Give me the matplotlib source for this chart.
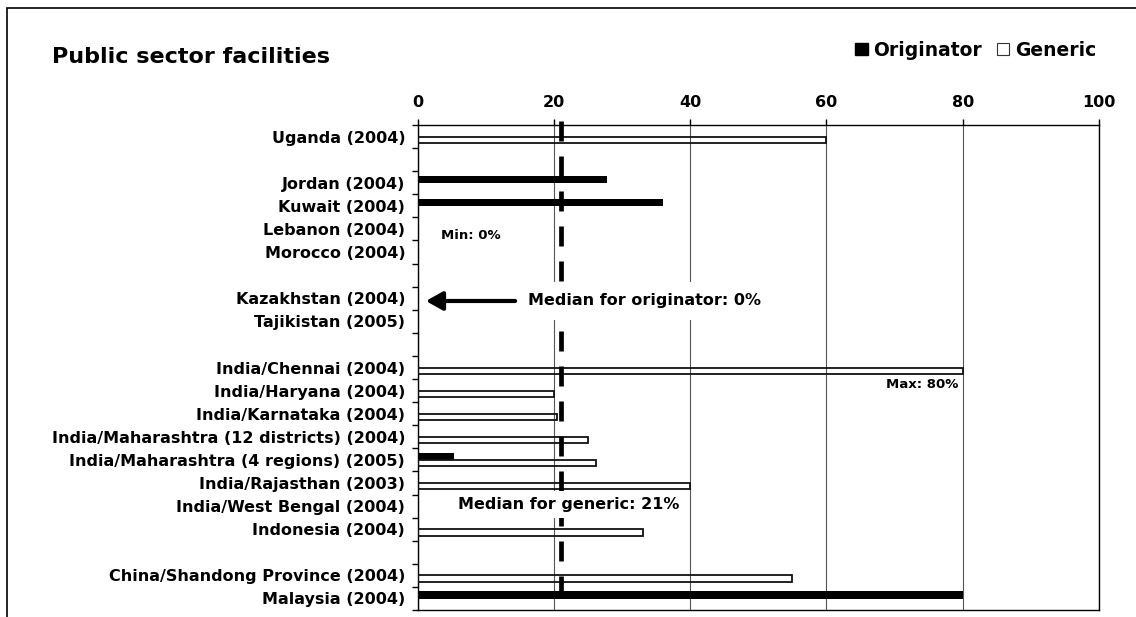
import numpy as np
import matplotlib
matplotlib.use("Agg")
import matplotlib.pyplot as plt
from matplotlib.patches import Patch, Rectangle

plt.rcParams['font.family'] = 'DejaVu Sans'
plt.rcParams['font.weight'] = 'bold'
plt.rcParams['lines.scale_dashes'] = False

# data (blank strings are spacer rows)
countries = ["Uganda (2004)", "", "Jordan (2004)", "Kuwait (2004)",
             "Lebanon (2004)", "Morocco (2004)", "", "Kazakhstan (2004)",
             "Tajikistan (2005)", "", "India/Chennai (2004)",
             "India/Haryana (2004)", "India/Karnataka (2004)",
             "India/Maharashtra (12 districts) (2004)",
             "India/Maharashtra (4 regions) (2005)", "India/Rajasthan (2003)",
             "India/West Bengal (2004)", "Indonesia (2004)", "",
             "China/Shandong Province (2004)", "Malaysia (2004)"]
nan = np.nan
originator = [nan, nan, 27.8, 36.0, 0, 0, nan, 0, 0, nan,
              nan, nan, nan, nan, 5.3, nan, nan, nan, nan, nan, 80.0]
generic = [60.0, nan, nan, nan, nan, nan, nan, nan, nan, nan,
           80.0, 20.0, 20.5, 25.0, 26.2, 40.0, nan, 33.1, nan, 55.0, nan]
median_originator = 0
median_generic = 21
min_originator = 0
max_generic = 80

W, H = 1136, 617
fig = plt.figure(figsize=(W / 100, H / 100), dpi=100)
ax = fig.add_axes([417.7 / W, 1 - 610 / H, (1099 - 417.7) / W, (610 - 125) / H])

y = np.arange(len(countries))
orig = np.array(originator)
gen = np.array(generic)
m1 = np.isfinite(orig) & (orig > 0)
m2 = np.isfinite(gen)
ax.barh(y[m1] - 0.15, orig[m1], height=0.32, color='black', linewidth=0, zorder=3)
ax.barh(y[m2] + 0.14, gen[m2], height=0.27, facecolor='none',
        edgecolor='#111111', linewidth=1.3, zorder=3)

ax.set_xlim(0, 100)
ax.set_ylim(len(countries) - 0.5, -0.5)
ax.set_xticks([0, 20, 40, 60, 80, 100])
ax.xaxis.tick_top()
ax.tick_params(axis='x', which='major', length=4, width=1, pad=7, labelsize=11.5,
               direction='out')
ax.set_yticks(y)
ax.set_yticklabels(countries, fontsize=11.5)
ax.tick_params(axis='y', which='major', length=0, pad=9)
ax.set_yticks(np.arange(-0.5, len(countries)), minor=True)
ax.tick_params(axis='y', which='minor', length=4, width=1, direction='out')
for lbl in ax.get_xticklabels() + ax.get_yticklabels():
    lbl.set_fontweight('bold')

ax.grid(axis='x', color='#555555', linewidth=0.8, zorder=1)
ax.set_axisbelow(True)
for s in ax.spines.values():
    s.set_color('black')
    s.set_linewidth(1)

# median line for generic
ax.plot([median_generic, median_generic], [-0.67, len(countries) - 0.5],
        color='black', linewidth=3.4, linestyle=(0, (14.4, 10.8)),
        clip_on=False, zorder=4)

# annotations
ax.text(3.4, 4.3, "Min: %d%%" % min_originator, fontsize=9.5, va='center')
ax.text(79.4, 10.73, "Max: %d%%" % max_generic, fontsize=9.5, va='center',
        ha='right')
ax.annotate('', xy=(1.2, 7.12), xytext=(14.3, 7.12),
            arrowprops=dict(arrowstyle='-|>,head_length=0.5,head_width=0.28',
                            lw=3.0, color='black', mutation_scale=20,
                            shrinkA=0, shrinkB=0), zorder=6)
ax.text(16.2, 7.12, "Median for originator: %d%%" % median_originator,
        fontsize=11.5, va='center', zorder=5,
        bbox=dict(boxstyle='square,pad=0.7', facecolor='white', edgecolor='none'))
ax.text(5.96, 15.93, "Median for generic: %d%%" % median_generic,
        fontsize=11.5, va='center', zorder=5,
        bbox=dict(boxstyle='square,pad=0.35', facecolor='white', edgecolor='none'))

# title and legend
fig.text(52 / W, 1 - 57 / H, "Public sector facilities", fontsize=16,
         fontweight='bold', va='center', ha='left')
handles = [Patch(facecolor='black', edgecolor='black', label='Originator'),
           Patch(facecolor='white', edgecolor='#333333', linewidth=0.8, label='Generic')]
fig.legend(handles=handles, loc='center right', bbox_to_anchor=(1096 / W, 1 - 50 / H),
           ncol=2, frameon=False, prop={'weight': 'bold', 'size': 13.5},
           handlelength=0.65, handleheight=0.65, handletextpad=0.3,
           columnspacing=0.8, borderpad=0, borderaxespad=0)

# outer frame
fig.patches.append(Rectangle((7 / W, -0.5), 1.2, 1.5 - 8 / H, transform=fig.transFigure,
                             fill=False, edgecolor='black', linewidth=1.2))

fig.savefig("out.png", dpi=100, facecolor='white')
